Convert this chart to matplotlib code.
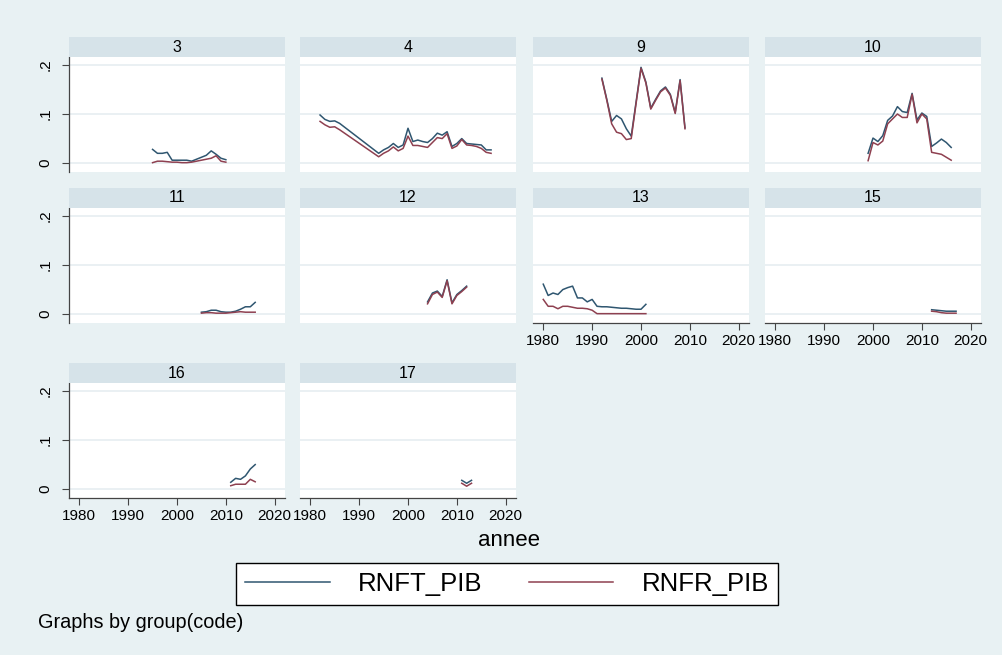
import matplotlib.pyplot as plt
from matplotlib.lines import Line2D

plt.rcParams['font.family'] = ['Liberation Sans', 'DejaVu Sans']

W, H = 1003, 655

## data (share of GDP)
years_3 = list(range(1995, 2011))
rnft_3 = [.028, .020, .020, .022, .006, .006, .006, .006, .004, .008, .012, .016, .025, .018, .010, .007]
rnfr_3 = [.001, .004, .004, .003, .002, .002, .001, .001, .002, .004, .006, .008, .010, .015, .004, .002]

years_4 = [1982, 1983, 1984, 1985, 1986] + list(range(1994, 2018))
rnft_4 = [.098, .089, .085, .086, .081, .020, .027, .032, .040, .032, .037, .071, .044, .047, .044,
          .042, .050, .061, .057, .064, .034, .040, .050, .040, .039, .038, .037, .027, .027]
rnfr_4 = [.085, .078, .073, .074, .068, .013, .020, .025, .033, .025, .030, .055, .036, .036, .034,
          .032, .042, .052, .050, .060, .030, .035, .048, .037, .036, .034, .030, .022, .020]

years_9 = list(range(1992, 2010))
rnft_9 = [.173, .130, .085, .097, .090, .070, .055, .125, .195, .165, .112, .130, .147, .155, .140, .103, .170, .072]
rnfr_9 = [.171, .128, .080, .063, .060, .048, .050, .122, .193, .163, .110, .128, .145, .153, .138, .101, .168, .070]

years_10 = list(range(1999, 2017))
rnft_10 = [.020, .051, .044, .056, .087, .096, .115, .105, .103, .142, .088, .102, .095, .034, .041, .049, .042, .032]
rnfr_10 = [.005, .042, .037, .045, .080, .090, .100, .093, .093, .140, .082, .100, .090, .022, .020, .018, .012, .006]

years_11 = list(range(2005, 2017))
rnft_11 = [.004, .005, .008, .008, .005, .004, .004, .006, .010, .015, .015, .024]
rnfr_11 = [.002, .003, .003, .002, .002, .002, .003, .004, .005, .004, .004, .004]

years_12 = list(range(2004, 2013))
rnft_12 = [.025, .043, .047, .036, .070, .023, .040, .048, .057]
rnfr_12 = [.021, .040, .045, .034, .068, .021, .038, .046, .055]

years_13 = list(range(1980, 2002))
rnft_13 = [.061, .038, .043, .040, .050, .054, .057, .033, .033, .025, .030, .016,
           .015, .015, .014, .013, .012, .012, .011, .010, .010, .020]
rnfr_13 = [.030, .016, .016, .011, .016, .016, .014, .012, .012, .011, .008, .001,
           .001, .001, .001, .001, .001, .001, .001, .001, .001, .001]

years_15 = list(range(2012, 2018))
rnft_15 = [.009, .008, .007, .006, .006, .006]
rnfr_15 = [.006, .005, .003, .002, .002, .002]

years_16 = list(range(2011, 2017))
rnft_16 = [.014, .022, .020, .027, .041, .050]
rnfr_16 = [.007, .010, .010, .010, .020, .015]

years_17 = [2011, 2012, 2013]
rnft_17 = [.018, .012, .018]
rnfr_17 = [.012, .006, .012]

groups = ['3', '4', '9', '10', '11', '12', '13', '15', '16', '17']
panels = {
    '3': (years_3, rnft_3, rnfr_3), '4': (years_4, rnft_4, rnfr_4),
    '9': (years_9, rnft_9, rnfr_9), '10': (years_10, rnft_10, rnfr_10),
    '11': (years_11, rnft_11, rnfr_11), '12': (years_12, rnft_12, rnfr_12),
    '13': (years_13, rnft_13, rnfr_13), '15': (years_15, rnft_15, rnfr_15),
    '16': (years_16, rnft_16, rnfr_16), '17': (years_17, rnft_17, rnfr_17),
}
bottom_panels = ['13', '15', '16', '17']

## style
bg = '#E8F1F3'
strip_col = '#D6E3E9'
grid_col = '#E6EEF1'
c_rnft = '#2F5670'
c_rnfr = '#8E4050'

fig = plt.figure(figsize=(W / 100, H / 100), dpi=100, facecolor=bg)

col_x = [69, 300, 533, 765]
row_y = [57, 208, 383]
pw, ph, sh = 216, 115, 20

for i, g in enumerate(groups):
    r, c = divmod(i, 4)
    x0, y0 = col_x[c], row_y[r]
    ax = fig.add_axes([x0 / W, 1 - (y0 + ph) / H, pw / W, ph / H])
    ax.set_facecolor('white')
    yrs, a, b = panels[g]
    ax.plot(yrs, a, color=c_rnft, lw=1.1)
    ax.plot(yrs, b, color=c_rnfr, lw=1.1)
    ax.set_xlim(1977.9, 2022.1)
    ax.set_ylim(-0.018, 0.216)
    ax.set_yticks([0, .1, .2])
    ax.set_yticklabels(['0', '.1', '.2'], rotation=90, va='center', fontsize=11)
    ax.set_xticks([1980, 1990, 2000, 2010, 2020])
    ax.tick_params(axis='x', labelsize=11, length=5, width=0.8, color='#444444', pad=3)
    ax.tick_params(axis='y', length=5, width=0.8, color='#444444', pad=7)
    ax.grid(axis='y', color=grid_col, lw=1.2)
    ax.set_axisbelow(True)
    for s in ax.spines.values():
        s.set_visible(False)
        s.set_color('#444444')
        s.set_linewidth(0.9)
    if c == 0:
        ax.spines['left'].set_visible(True)
    else:
        ax.tick_params(axis='y', left=False, labelleft=False)
    if g in bottom_panels:
        ax.spines['bottom'].set_visible(True)
    else:
        ax.tick_params(axis='x', bottom=False, labelbottom=False)

    sax = fig.add_axes([x0 / W, 1 - y0 / H, pw / W, sh / H])
    sax.set_facecolor(strip_col)
    sax.set_xticks([])
    sax.set_yticks([])
    for s in sax.spines.values():
        s.set_visible(False)
    sax.text(0.5, 0.5, g, ha='center', va='center', fontsize=11.5, transform=sax.transAxes)

fig.text(509 / W, 1 - 541 / H, 'annee', ha='center', va='center', fontsize=16)

handles = [Line2D([], [], color=c_rnft, lw=1.1), Line2D([], [], color=c_rnfr, lw=1.1)]
leg = fig.legend(handles, ['RNFT_PIB', 'RNFR_PIB'], ncol=2, loc='center',
                 bbox_to_anchor=(507 / W, 1 - 584 / H), fontsize=18.5, frameon=True,
                 fancybox=False, edgecolor='black', facecolor='white', framealpha=1,
                 handlelength=3.3, handletextpad=1.1, columnspacing=1.8,
                 borderpad=0.35, borderaxespad=0)
leg.get_frame().set_linewidth(1.0)

fig.text(38 / W, 1 - 623 / H, 'Graphs by group(code)', ha='left', va='center', fontsize=14.3)

fig.savefig('out.png', dpi=100, facecolor=bg)
